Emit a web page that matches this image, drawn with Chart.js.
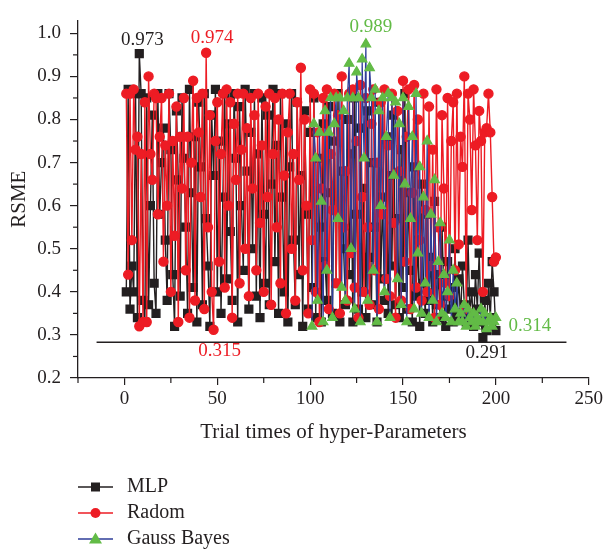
<!DOCTYPE html>
<html>
<head>
<meta charset="utf-8">
<script src="https://cdn.jsdelivr.net/npm/chart.js@4.4.1/dist/chart.umd.min.js"></script>
<style>
  html, body { margin: 0; padding: 0; background: #fff; }
  #wrap { width: 606px; height: 552px; }
</style>
</head>
<body>
<div id="wrap"><canvas id="myChart" width="606" height="552"></canvas></div>
<script>
// RMSE of each trial
const mlpRmse = [
  0.40, 0.87, 0.36, 0.46, 0.40, 0.86, 0.34, 0.953, 0.86, 0.38,
  0.33, 0.85, 0.37, 0.60, 0.81, 0.42, 0.35, 0.86, 0.58, 0.70,
  0.78, 0.52, 0.38, 0.86, 0.73, 0.44, 0.32, 0.82, 0.66, 0.39,
  0.85, 0.71, 0.55, 0.35, 0.87, 0.63, 0.41, 0.76, 0.33, 0.84,
  0.69, 0.37, 0.86, 0.57, 0.46, 0.32, 0.81, 0.67, 0.87, 0.40,
  0.75, 0.35, 0.62, 0.86, 0.43, 0.79, 0.54, 0.38, 0.86, 0.71,
  0.33, 0.83, 0.60, 0.45, 0.87, 0.68, 0.36, 0.77, 0.50, 0.86,
  0.39, 0.72, 0.34, 0.85, 0.58, 0.42, 0.81, 0.37, 0.65, 0.87,
  0.47, 0.74, 0.35, 0.86, 0.62, 0.40, 0.79, 0.33, 0.69, 0.86,
  0.52, 0.37, 0.84, 0.44, 0.67, 0.32, 0.82, 0.58, 0.36, 0.77,
  0.41, 0.85, 0.34, 0.71, 0.55, 0.33, 0.79, 0.47, 0.38, 0.83,
  0.63, 0.35, 0.75, 0.42, 0.86, 0.33, 0.68, 0.50, 0.37, 0.80,
  0.44, 0.72, 0.33, 0.85, 0.58, 0.36, 0.78, 0.40, 0.64, 0.34,
  0.82, 0.48, 0.37, 0.70, 0.55, 0.33, 0.84, 0.43, 0.62, 0.38,
  0.76, 0.35, 0.67, 0.46, 0.81, 0.37, 0.57, 0.34, 0.73, 0.41,
  0.86, 0.36, 0.63, 0.45, 0.33, 0.69, 0.39, 0.52, 0.32, 0.65,
  0.42, 0.35, 0.58, 0.38, 0.48, 0.33, 0.61, 0.37, 0.44, 0.34,
  0.55, 0.39, 0.32, 0.47, 0.36, 0.41, 0.33, 0.50, 0.35, 0.43,
  0.34, 0.46, 0.37, 0.33, 0.52, 0.35, 0.40, 0.32, 0.44, 0.36,
  0.49, 0.33, 0.294, 0.38, 0.31, 0.42, 0.34, 0.47, 0.40, 0.31
];
const radomRmse = [
  0.86, 0.44, 0.86, 0.52, 0.87, 0.73, 0.76, 0.32, 0.72, 0.33,
  0.84, 0.33, 0.90, 0.72, 0.66, 0.86, 0.85, 0.58, 0.76, 0.85,
  0.47, 0.74, 0.60, 0.86, 0.40, 0.75, 0.53, 0.83, 0.33, 0.76,
  0.64, 0.85, 0.45, 0.76, 0.34, 0.70, 0.89, 0.38, 0.85, 0.77,
  0.62, 0.86, 0.36, 0.955, 0.55, 0.81, 0.40, 0.312, 0.75, 0.84,
  0.47, 0.72, 0.86, 0.41, 0.87, 0.60, 0.84, 0.34, 0.79, 0.66,
  0.86, 0.42, 0.73, 0.86, 0.50, 0.78, 0.39, 0.85, 0.64, 0.81,
  0.45, 0.86, 0.56, 0.74, 0.40, 0.83, 0.62, 0.86, 0.37, 0.72,
  0.85, 0.55, 0.80, 0.42, 0.86, 0.67, 0.35, 0.77, 0.86, 0.50,
  0.72, 0.38, 0.84, 0.66, 0.92, 0.45, 0.80, 0.60, 0.35, 0.87,
  0.52, 0.86, 0.40, 0.77, 0.33, 0.64, 0.85, 0.46, 0.87, 0.36,
  0.72, 0.59, 0.86, 0.42, 0.81, 0.35, 0.90, 0.55, 0.68, 0.38,
  0.86, 0.49, 0.87, 0.41, 0.75, 0.34, 0.88, 0.62, 0.40, 0.85,
  0.55, 0.37, 0.79, 0.87, 0.45, 0.70, 0.36, 0.84, 0.58, 0.87,
  0.43, 0.74, 0.39, 0.86, 0.56, 0.34, 0.82, 0.68, 0.38, 0.89,
  0.47, 0.76, 0.87, 0.36, 0.63, 0.88, 0.41, 0.80, 0.52, 0.38,
  0.86, 0.59, 0.40, 0.83, 0.46, 0.73, 0.34, 0.87, 0.55, 0.37,
  0.81, 0.64, 0.42, 0.85, 0.39, 0.75, 0.84, 0.45, 0.86, 0.51,
  0.76, 0.69, 0.90, 0.36, 0.86, 0.80, 0.59, 0.87, 0.74, 0.52,
  0.82, 0.75, 0.40, 0.77, 0.78, 0.86, 0.77, 0.62, 0.47, 0.48
];
const gaussRmse = [
  0.32, 0.79, 0.71, 0.38, 0.77, 0.61, 0.33, 0.82, 0.45, 0.77,
  0.85, 0.34, 0.79, 0.85, 0.57, 0.85, 0.41, 0.82, 0.38, 0.85,
  0.93, 0.50, 0.85, 0.36, 0.91, 0.85, 0.33, 0.94, 0.71, 0.975,
  0.38, 0.92, 0.85, 0.45, 0.87, 0.33, 0.82, 0.60, 0.85, 0.40,
  0.76, 0.86, 0.34, 0.85, 0.67, 0.84, 0.43, 0.79, 0.37, 0.85,
  0.65, 0.33, 0.83, 0.57, 0.76, 0.36, 0.86, 0.49, 0.69, 0.35,
  0.62, 0.42, 0.75, 0.34, 0.58, 0.38, 0.66, 0.33, 0.47, 0.56,
  0.35, 0.44, 0.34, 0.40, 0.52, 0.33, 0.45, 0.36, 0.42, 0.33,
  0.35, 0.33, 0.37, 0.32, 0.36, 0.34, 0.33, 0.35, 0.32, 0.34,
  0.33, 0.36, 0.33, 0.35, 0.314, 0.33, 0.34, 0.32, 0.33, 0.34
];
const mlpFirstTrial = 1;
const radomFirstTrial = 1;
const gaussFirstTrial = 101;

const seriesNames = ["MLP", "Radom", "Gauss Bayes"];
const peakText = ["0.973", "0.974", "0.989"];
const lowText = ["0.291", "0.315", "0.314"];

// the flat reference line under the points
const refLineX = [-15, 238];
const refLineY = 0.283;

const xTicks = [0, 50, 100, 150, 200, 250];
const xMinorTicks = [-25, 25, 75, 125, 175, 225];
const yTicks = [0.2, 0.3, 0.4, 0.5, 0.6, 0.7, 0.8, 0.9, 1.0];
const yMinorTicks = [0.25, 0.35, 0.45, 0.55, 0.65, 0.75, 0.85, 0.95];

const INK = "#231f20";
const RED = "#ed1c24";
const GREEN = "#62bb46";
const BLUE = "#2e3d98";
const FONT = "'Liberation Serif', 'Times New Roman', serif";

function toPoints(vals, first) {
  return vals.map((v, i) => ({ x: first + i, y: v }));
}

// marker drawing shared by the legend
function drawMarker(ctx, style, x, y, color) {
  ctx.save();
  ctx.fillStyle = color;
  ctx.beginPath();
  if (style === "rect") {
    ctx.rect(x - 4.5, y - 4.5, 9, 9);
  } else if (style === "circle") {
    ctx.arc(x, y, 5, 0, Math.PI * 2);
  } else {
    ctx.moveTo(x, y - 6.5);
    ctx.lineTo(x + 6.5, y + 4.5);
    ctx.lineTo(x - 6.5, y + 4.5);
    ctx.closePath();
  }
  ctx.fill();
  ctx.restore();
}

// min / max value labels
const notes = [
  { ds: 0, pick: "max", text: peakText[0], color: INK, dx: 3, dy: -14, align: "center" },
  { ds: 1, pick: "max", text: peakText[1], color: RED, dx: 6, dy: -15, align: "center" },
  { ds: 2, pick: "max", text: peakText[2], color: GREEN, dx: 5, dy: -17, align: "center" },
  { ds: 0, pick: "min", text: lowText[0], color: INK, dx: 4, dy: 16, align: "center" },
  { ds: 1, pick: "min", text: lowText[1], color: RED, dx: 6, dy: 21, align: "center" },
  { ds: 2, pick: "min", text: lowText[2], color: GREEN, dx: 22, dy: -3, align: "left" },
];

const extrasPlugin = {
  id: "extras",
  afterDraw(chart) {
    const ctx = chart.ctx;
    const xs = chart.scales.x, ys = chart.scales.y;
    ctx.save();
    // minor ticks
    ctx.strokeStyle = INK;
    ctx.lineWidth = 1.2;
    xMinorTicks.forEach((v) => {
      const px = xs.getPixelForValue(v);
      ctx.beginPath();
      ctx.moveTo(px, ys.bottom);
      ctx.lineTo(px, ys.bottom + 5);
      ctx.stroke();
    });
    yMinorTicks.forEach((v) => {
      const py = ys.getPixelForValue(v);
      ctx.beginPath();
      ctx.moveTo(xs.left, py);
      ctx.lineTo(xs.left - 5, py);
      ctx.stroke();
    });

    // value labels
    ctx.font = "19px " + FONT;
    ctx.textBaseline = "middle";
    notes.forEach((n) => {
      const ds = chart.data.datasets[n.ds].data;
      let idx = 0;
      ds.forEach((p, i) => {
        if (n.pick === "max" ? p.y > ds[idx].y : p.y < ds[idx].y) idx = i;
      });
      const el = chart.getDatasetMeta(n.ds).data[idx];
      ctx.fillStyle = n.color;
      ctx.textAlign = n.align;
      ctx.fillText(n.text, el.x + n.dx, el.y + n.dy);
    });

    // legend, stacked under the axis title
    const rows = [487, 513, 539];
    ctx.font = "20px " + FONT;
    seriesNames.forEach((name, i) => {
      const d = chart.data.datasets[i];
      const y = rows[i];
      ctx.strokeStyle = d.borderColor;
      ctx.lineWidth = 1.3;
      ctx.beginPath();
      ctx.moveTo(78, y);
      ctx.lineTo(113, y);
      ctx.stroke();
      drawMarker(ctx, d.pointStyle, 95.5, y, d.pointBackgroundColor);
      ctx.fillStyle = INK;
      ctx.textAlign = "left";
      ctx.fillText(name, 127, y);
    });
    ctx.restore();
  },
};

const ctx = document.getElementById("myChart");

const data = {
  datasets: [
    {
      label: seriesNames[0],
      data: toPoints(mlpRmse, mlpFirstTrial),
      borderColor: INK,
      backgroundColor: INK,
      pointBackgroundColor: INK,
      pointBorderColor: INK,
      pointStyle: "rect",
      pointRadius: 5.5,
      borderWidth: 1.4,
      order: 3,
    },
    {
      label: seriesNames[1],
      data: toPoints(radomRmse, radomFirstTrial),
      borderColor: RED,
      backgroundColor: RED,
      pointBackgroundColor: RED,
      pointBorderColor: RED,
      pointStyle: "circle",
      pointRadius: 4.5,
      borderWidth: 1.4,
      order: 2,
    },
    {
      label: seriesNames[2],
      data: toPoints(gaussRmse, gaussFirstTrial),
      borderColor: BLUE,
      backgroundColor: GREEN,
      pointBackgroundColor: GREEN,
      pointBorderColor: GREEN,
      pointStyle: "triangle",
      pointRadius: 5.5,
      borderWidth: 1.2,
      order: 1,
    },
    {
      label: "ref",
      data: refLineX.map((x) => ({ x: x, y: refLineY })),
      borderColor: INK,
      borderWidth: 1.3,
      pointRadius: 0,
      order: 0,
    },
  ],
};

const config = {
  type: "line",
  data: data,
  options: {
    responsive: false,
    animation: false,
    events: [],
    tension: 0,
    layout: { padding: { top: 8, right: 17, bottom: 94, left: 0 } },
    plugins: {
      legend: { display: false },
      tooltip: { enabled: false },
    },
    scales: {
      x: {
        type: "linear",
        min: -25,
        max: 250,
        afterBuildTicks: (s) => { s.ticks = xTicks.map((v) => ({ value: v })); },
        afterFit: (s) => { s.height = 80; },
        grid: { drawOnChartArea: false, drawTicks: true, tickLength: 7, color: INK, lineWidth: 1.2 },
        border: { display: true, color: INK, width: 1.3 },
        ticks: { color: INK, font: { family: FONT, size: 19 }, padding: 3, maxRotation: 0 },
        title: {
          display: true,
          text: "Trial times of hyper-Parameters",
          color: INK,
          font: { family: FONT, size: 21 },
          padding: { top: 0, bottom: 13 },
        },
      },
      y: {
        type: "linear",
        min: 0.2,
        max: 1.03,
        afterBuildTicks: (s) => { s.ticks = yTicks.map((v) => ({ value: v })); },
        afterFit: (s) => { s.width = 78; },
        grid: { drawOnChartArea: false, drawTicks: true, tickLength: 8, color: INK, lineWidth: 1.2 },
        border: { display: true, color: INK, width: 1.3 },
        ticks: {
          color: INK,
          font: { family: FONT, size: 19 },
          padding: 9,
          callback: (v) => Number(v).toFixed(1),
        },
        title: {
          display: true,
          text: "RSME",
          color: INK,
          font: { family: FONT, size: 21 },
          padding: { top: 7, bottom: 0 },
        },
      },
    },
  },
  plugins: [extrasPlugin],
};

const myChart = new Chart(ctx, config);
</script>
</body>
</html>
